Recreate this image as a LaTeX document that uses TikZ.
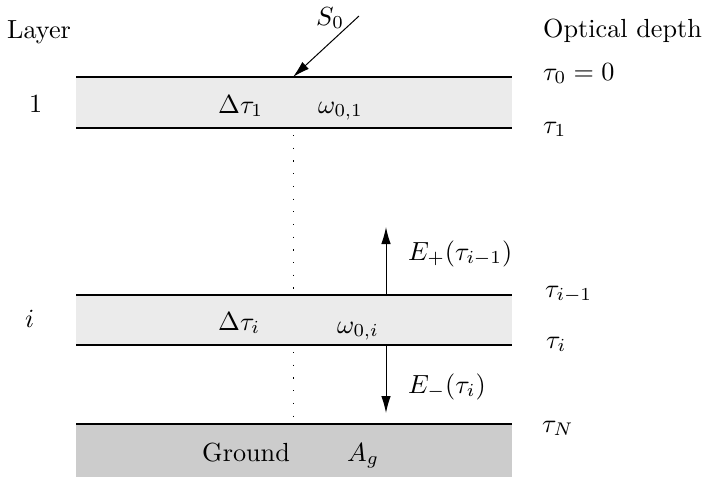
\documentclass[tikz,border=0pt]{standalone}
\usepackage{graphicx}
\usetikzlibrary{arrows.meta}
\newcommand\bigtxt[1]{\scalebox{2.62}{#1}}
\begin{document}
\begin{tikzpicture}[x=1pt,y=-1pt,
  lbl/.style={inner sep=0pt,anchor=base west,font=\fontsize{10}{12}\selectfont},
  bound/.style={line width=2.9pt},
  flux/.style={line width=1pt,-{Latex[length=17pt,width=9.5pt]}},
  vdots/.style={line width=1pt,dash pattern=on 1.2pt off 11.5pt}]
\useasboundingbox (0,0) rectangle (710,477);
% fills
\fill[black!8] (76,77) rectangle (512,128);
\fill[black!8] (76,295) rectangle (512,345);
\fill[black!20] (76,424) rectangle (512,477);
% boundaries
\coordinate (t0l) at (76,77);  \coordinate (t0r) at (512,77);
\coordinate (t1l) at (76,128); \coordinate (t1r) at (512,128);
\coordinate (ti1l) at (76,295); \coordinate (ti1r) at (512,295);
\coordinate (til) at (76,345); \coordinate (tir) at (512,345);
\coordinate (tnl) at (76,424); \coordinate (tnr) at (512,424);
\draw[bound] (t0l) -- (t0r);
\draw[bound] (t1l) -- (t1r);
\draw[bound] (ti1l) -- (ti1r);
\draw[bound] (til) -- (tir);
\draw[bound] (tnl) -- (tnr);
% dotted
\coordinate (d1a) at (293,135); \coordinate (d1b) at (293,295);
\coordinate (d2a) at (293,352); \coordinate (d2b) at (293,424);
\draw[vdots] (d1a) -- (d1b);
\draw[vdots] (d2a) -- (d2b);
% arrows
\coordinate (sstart) at (359,16); \coordinate (send) at (293,77);
\draw[flux] (sstart) -- (send);
\coordinate (eps) at (386,294); \coordinate (epe) at (386,227);
\draw[flux] (eps) -- (epe);
\coordinate (ems) at (386,346); \coordinate (eme) at (386,413);
\draw[flux] (ems) -- (eme);
% labels
\node[lbl] (s0) at (316,25) {\bigtxt{$S_0$}};
\node[lbl] (layer) at (7,38) {\bigtxt{Layer}};
\node[lbl] (od) at (543,37) {\bigtxt{Optical depth}};
\node[lbl] (l1) at (29,112) {\bigtxt{1}};
\node[lbl] (li) at (25,327) {\bigtxt{$i$}};
\node[lbl] (dt1) at (218,113) {\bigtxt{$\Delta\tau_1$}};
\node[lbl] (w01) at (318,113) {\bigtxt{$\omega_{0,1}$}};
\node[lbl] (dti) at (218,330) {\bigtxt{$\Delta\tau_i$}};
\node[lbl] (w0i) at (337,333) {\bigtxt{$\omega_{0,i}$}};
\node[lbl] (gr) at (202,461) {\bigtxt{Ground}};
\node[lbl] (ag) at (347,461) {\bigtxt{$A_g$}};
\node[lbl] (tau0) at (543,80) {\bigtxt{$\tau_0=0$}};
\node[lbl] (tau1) at (543,133) {\bigtxt{$\tau_1$}};
\node[lbl] (taui1) at (545,297) {\bigtxt{$\tau_{i-1}$}};
\node[lbl] (taui) at (546,348) {\bigtxt{$\tau_i$}};
\node[lbl] (taun) at (542,432) {\bigtxt{$\tau_N$}};
\node[lbl] (ep) at (408,260) {\bigtxt{$E_+(\tau_{i-1})$}};
\node[lbl] (em) at (408,393) {\bigtxt{$E_-(\tau_i)$}};
\end{tikzpicture}
\end{document}
